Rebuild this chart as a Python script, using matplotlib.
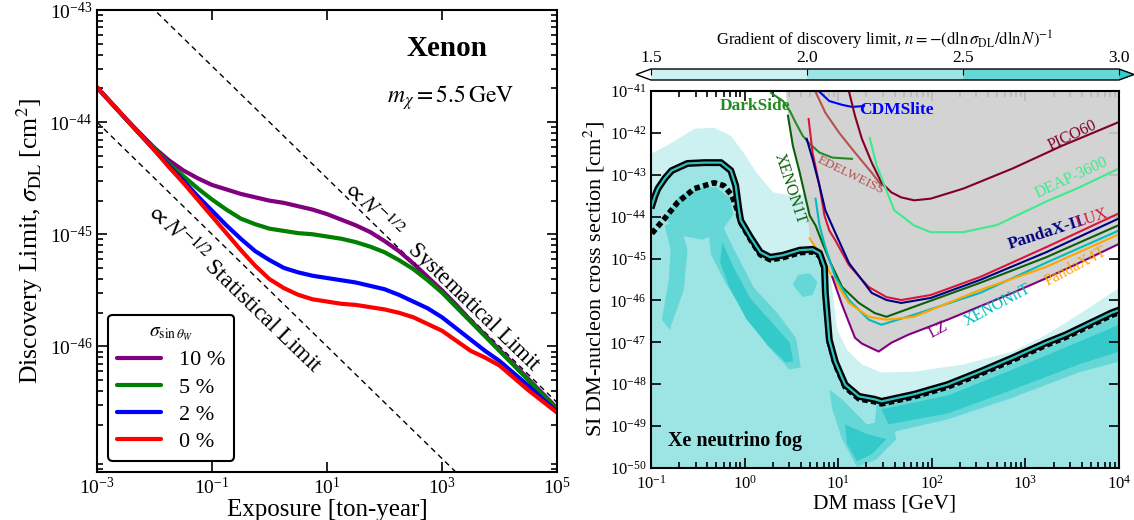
import numpy as np
import matplotlib
matplotlib.use("Agg")
import matplotlib.pyplot as plt
from matplotlib.colors import ListedColormap, BoundaryNorm
from matplotlib.ticker import NullLocator, LogLocator
import matplotlib.colorbar as mcb

plt.rcParams['font.family'] = ['Liberation Serif', 'DejaVu Serif']
plt.rcParams['mathtext.fontset'] = 'stix'

# ---------------- left panel data (log10 exposure, log10 discovery limit) ----------------
exposure_log = [-3.0, -2.75, -2.5, -2.25, -2.0, -1.75, -1.5, -1.25, -1.0, -0.75, -0.5, -0.25, 0.0, 0.25, 0.5, 0.75,
                1.0, 1.25, 1.5, 1.75, 2.0, 2.25, 2.5, 2.75, 3.0, 3.25, 3.5, 3.75, 4.0, 4.25, 4.5, 4.75, 5.0]
dl_10pc = [-43.69, -43.83, -43.97, -44.10, -44.23, -44.34, -44.43, -44.50, -44.56, -44.60, -44.64, -44.67, -44.70,
           -44.72, -44.75, -44.78, -44.82, -44.87, -44.92, -44.98, -45.06, -45.15, -45.26, -45.38, -45.50, -45.63,
           -45.77, -45.90, -46.03, -46.16, -46.29, -46.42, -46.55]
dl_5pc = [-43.69, -43.83, -43.97, -44.11, -44.24, -44.37, -44.48, -44.59, -44.69, -44.78, -44.86, -44.91, -44.95,
          -44.97, -44.99, -45.00, -45.02, -45.04, -45.07, -45.11, -45.16, -45.23, -45.31, -45.41, -45.52, -45.65,
          -45.78, -45.91, -46.04, -46.17, -46.30, -46.43, -46.56]
dl_2pc = [-43.69, -43.83, -43.97, -44.11, -44.25, -44.39, -44.52, -44.66, -44.79, -44.92, -45.04, -45.15, -45.23,
          -45.30, -45.34, -45.37, -45.39, -45.41, -45.43, -45.46, -45.49, -45.54, -45.60, -45.66, -45.74, -45.84,
          -45.94, -46.04, -46.13, -46.24, -46.35, -46.47, -46.58]
dl_0pc = [-43.69, -43.83, -43.97, -44.11, -44.25, -44.40, -44.54, -44.69, -44.84, -44.99, -45.14, -45.28, -45.40,
          -45.48, -45.54, -45.58, -45.60, -45.62, -45.63, -45.65, -45.67, -45.70, -45.74, -45.80, -45.86, -45.95,
          -46.04, -46.10, -46.17, -46.28, -46.39, -46.49, -46.59]
curve_labels = ['10 %', '5 %', '2 %', '0 %']
curve_colors = ['purple', 'green', 'blue', 'red']

sys_N = [-3.0, 5.0]
sys_sig = [-42.5, -46.5]
stat_N = [-3.0, 5.0]
stat_sig = [-44.0, -48.0]

# ---------------- right panel data (log10 mass, log10 cross section) ----------------
floor_m = [-1.0, -0.96, -0.926, -0.85, -0.779, -0.611, -0.432, -0.253, -0.147, -0.095, -0.063, -0.042, 0.063, 0.168,
           0.274, 0.411, 0.589, 0.726, 0.80, 0.853, 0.863, 0.905, 0.968, 1.074, 1.221, 1.389, 1.463, 1.811, 2.168,
           2.516, 2.863, 3.221, 3.432, 3.916, 4.0]
floor_s = [-43.80, -43.52, -43.33, -43.08, -42.90, -42.73, -42.71, -42.71, -42.90, -43.26, -43.80, -44.09, -44.49,
           -44.85, -44.97, -44.92, -44.80, -44.78, -44.87, -45.20, -45.82, -46.94, -47.46, -48.01, -48.29, -48.36,
           -48.41, -48.24, -48.01, -47.70, -47.37, -47.01, -46.82, -46.30, -46.23]

fog_dash_m = [-0.991, -0.853, -0.716, -0.537, -0.326, -0.221, -0.137, -0.084, -0.04, 0.063, 0.168, 0.274, 0.411,
              0.589, 0.726, 0.80, 0.853, 0.863, 0.905, 0.968, 1.074, 1.221, 1.389, 1.463, 1.811, 2.168, 2.516, 2.863,
              3.221, 3.432, 3.916, 4.0]
fog_dash_s = [-44.40, -44.04, -43.66, -43.33, -43.19, -43.26, -43.49, -43.80, -44.15, -44.55, -44.91, -45.03, -44.98,
              -44.86, -44.84, -44.93, -45.26, -45.88, -47.00, -47.52, -48.07, -48.35, -48.42, -48.47, -48.30, -48.07,
              -47.76, -47.43, -47.07, -46.88, -46.36, -46.29]

light_top_m = [-1.0, -0.779, -0.537, -0.326, -0.147, -0.011, 0.126, 0.305, 0.484, 0.653, 0.779, 0.884, 0.937, 0.989,
               1.095, 1.253, 1.463, 1.811, 2.337, 2.863, 3.221, 3.568, 4.0]
light_top_s = [-42.50, -42.24, -41.90, -41.88, -42.07, -42.47, -42.95, -43.42, -43.49, -43.45, -43.61, -44.56, -45.75,
               -46.70, -47.18, -47.53, -47.72, -47.70, -47.53, -47.22, -46.82, -46.34, -45.70]

# darker fog patches: outlines in (log m, log sigma)
loop_m = [-0.85, -0.70, -0.484, -0.30, -0.16, -0.12, -0.25, -0.45, -0.68]
loop_s = [-44.05, -43.50, -43.30, -43.30, -43.55, -43.95, -44.35, -44.55, -44.45]
streak_m = [-0.40, -0.27, -0.12, 0.10, 0.35, 0.55, 0.60, 0.48, 0.25, 0.0, -0.20, -0.36]
streak_s = [-44.10, -44.05, -44.75, -45.70, -46.30, -46.90, -47.60, -47.65, -47.10, -46.30, -45.60, -44.90]
streak_core_m = [-0.24, -0.12, 0.06, 0.30, 0.48, 0.52, 0.44, 0.24, 0.02, -0.16, -0.26]
streak_core_s = [-44.60, -45.20, -45.95, -46.55, -47.00, -47.45, -47.48, -47.05, -46.45, -45.70, -45.10]
side_m = [-0.853, -0.695, -0.610, -0.650, -0.800, -0.884, -0.810, -0.790]
side_s = [-44.21, -44.09, -44.80, -45.75, -46.70, -46.46, -45.51, -44.80]
blob_m = [0.516, 0.568, 0.695, 0.779, 0.726, 0.621]
blob_s = [-45.63, -45.39, -45.35, -45.56, -45.87, -45.92]
vee_m = [0.905, 1.042, 1.305, 1.568, 1.621, 1.411, 1.200, 1.042, 0.937]
vee_s = [-48.13, -48.36, -48.96, -48.84, -49.31, -49.79, -49.98, -49.31, -48.60]
vee_core_m = [1.074, 1.305, 1.516, 1.358, 1.200, 1.095]
vee_core_s = [-48.96, -49.19, -49.31, -49.67, -49.84, -49.43]
band_m = [1.411, 1.811, 2.168, 2.516, 2.863, 3.221, 3.568, 4.0, 4.0, 3.568, 2.863, 2.168, 1.621, 1.463, 1.389]
band_s = [-48.46, -48.32, -48.13, -47.84, -47.51, -47.15, -46.80, -46.32, -47.46, -47.72, -48.32, -48.84, -49.12,
          -49.36, -48.96]
band_core_m = [1.463, 2.168, 2.863, 3.568, 4.0, 4.0, 3.568, 2.863, 2.168, 1.537]
band_core_s = [-48.60, -48.27, -47.65, -46.99, -46.58, -47.22, -47.53, -48.13, -48.70, -48.96]

excl_m = [0.442, 0.463, 0.516, 0.589, 0.653, 0.68, 0.695, 0.80, 0.937, 1.042, 1.179, 1.253, 1.432, 1.568, 1.747,
          2.168, 2.863, 3.221, 3.568, 4.0, 4.0]
excl_s = [-41.0, -41.59, -42.31, -42.95, -43.57, -44.0, -44.52, -44.87, -45.44, -46.11, -46.89, -47.03, -47.22, -47.01,
          -46.82, -46.46, -45.82, -45.47, -45.11, -44.65, -41.0]

darkside_m = [0.284, 0.411, 0.484, 0.547, 0.621, 0.695, 0.80, 0.937, 1.147]
darkside_s = [-41.05, -41.24, -41.48, -41.76, -42.07, -42.26, -42.47, -42.59, -42.62]
xenon1t_m = [0.463, 0.516, 0.589, 0.653, 0.695, 0.758, 0.832, 0.916, 1.042, 1.221, 1.389, 1.516, 1.811, 2.516, 3.221, 4.0]
xenon1t_s = [-41.59, -42.31, -42.95, -43.57, -43.97, -44.21, -44.63, -45.09, -45.68, -46.06, -46.30, -46.39, -46.15,
             -45.58, -44.97, -44.20]
cdmslite_m = [0.80, 0.905, 1.042, 1.147, 1.274]
cdmslite_s = [-41.02, -41.24, -41.33, -41.38, -41.36]
edelweiss_m = [0.758, 0.863, 1.011, 1.179, 1.358, 1.463]
edelweiss_s = [-41.02, -41.52, -42.0, -42.47, -42.95, -43.26]
pico60_m = [1.116, 1.179, 1.253, 1.358, 1.463, 1.568, 1.674, 1.811, 1.989, 2.337, 2.863, 3.389, 4.0]
pico60_s = [-41.02, -41.59, -42.14, -42.71, -43.19, -43.42, -43.54, -43.61, -43.57, -43.33, -42.85, -42.31, -41.74]
deap_m = [1.337, 1.411, 1.516, 1.60, 1.811, 1.989, 2.337, 2.695, 3.042, 3.221, 3.568, 4.0]
deap_s = [-42.12, -42.78, -43.38, -43.85, -44.21, -44.37, -44.37, -44.20, -43.83, -43.64, -43.31, -42.85]
lux_m = [0.684, 0.726, 0.80, 0.853, 0.905, 0.968, 1.116, 1.326, 1.516, 1.674, 1.989, 2.516, 3.221, 4.0]
lux_s = [-41.67, -42.47, -43.26, -43.97, -44.33, -44.56, -45.16, -45.68, -45.92, -45.99, -45.87, -45.44, -44.73, -43.92]
pandax2_m = [0.663, 0.726, 0.80, 0.863, 0.958, 1.116, 1.358, 1.516, 1.674, 1.989, 2.516, 3.221, 4.0]
pandax2_s = [-42.14, -42.62, -43.26, -43.85, -44.33, -45.11, -45.82, -45.99, -46.06, -45.94, -45.51, -44.85, -44.04]
xenonnt_m = [0.758, 0.80, 0.863, 0.968, 1.116, 1.326, 1.463, 1.811, 2.516, 3.221, 4.0]
xenonnt_s = [-43.57, -44.21, -44.73, -45.44, -45.99, -46.46, -46.58, -46.34, -45.82, -45.10, -44.33]
pandax4t_m = [0.695, 0.80, 0.937, 1.116, 1.326, 1.516, 1.811, 2.516, 3.221, 4.0]
pandax4t_s = [-44.52, -44.87, -45.44, -46.06, -46.39, -46.46, -46.39, -45.75, -45.20, -44.42]
lz_m = [0.937, 1.042, 1.179, 1.253, 1.432, 1.568, 1.747, 2.168, 2.863, 3.221, 3.568, 4.0]
lz_s = [-45.44, -46.11, -46.89, -47.03, -47.22, -47.01, -46.82, -46.46, -45.82, -45.47, -45.11, -44.65]

FOG_LIGHT = '#cdf1f1'
FOG_MID = '#9de4e5'
FOG_DARK = '#66d7d7'
FOG_DARKEST = '#34caca'


def P(a):
    return 10 ** np.asarray(a, dtype=float)


fig = plt.figure(figsize=(11.34, 5.2), dpi=100)

# ======================= left panel =======================
ax1 = fig.add_axes([97 / 1134, 1 - 472 / 520, 460 / 1134, 462 / 520])
ax1.set_xscale('log')
ax1.set_yscale('log')
ax1.plot(P(sys_N), P(sys_sig), color='k', lw=1, ls=(0, (4, 3)))
ax1.plot(P(stat_N), P(stat_sig), color='k', lw=1, ls=(0, (4, 3)))
for ys, c, lab in zip([dl_10pc, dl_5pc, dl_2pc, dl_0pc], curve_colors, curve_labels):
    ax1.plot(P(exposure_log), P(ys), color=c, lw=3, label=lab, solid_capstyle='round', solid_joinstyle='round')
ax1.set_xlim(1e-3, 1e5)
ax1.set_ylim(10 ** -47.12, 1e-43)
ax1.set_xticks([1e-3, 1e-1, 1e1, 1e3, 1e5])
ax1.xaxis.set_minor_locator(NullLocator())
ax1.set_yticks([1e-46, 1e-45, 1e-44, 1e-43])
ax1.yaxis.set_minor_locator(LogLocator(subs=np.arange(2, 10)))
ax1.tick_params(which='both', direction='in', top=True, right=True, labelsize=14, width=1.2)
ax1.tick_params(which='major', length=7)
ax1.tick_params(which='minor', length=4)
for s in ax1.spines.values():
    s.set_linewidth(1.5)
ax1.set_xlabel('Exposure [ton-year]', fontsize=18, labelpad=1)
ax1.set_ylabel(r'Discovery Limit, $\sigma_{\rm DL}$ [cm$^2$]', fontsize=18.5, labelpad=3)
ax1.text(10 ** 3.09, 10 ** -43.34, 'Xenon', fontsize=21, fontweight='bold', ha='center', va='center')
ax1.text(10 ** 3.14, 10 ** -43.78, r'$m_\chi = 5.5\,\mathrm{GeV}$', fontsize=17, ha='center', va='center')
ax1.text(10 ** 3.0, 10 ** -45.37, r'$\propto N^{-1/2}$   Systematical Limit', fontsize=16.5,
         rotation=-44, ha='center', va='center', rotation_mode='anchor')
ax1.text(10 ** -0.6, 10 ** -45.48, r'$\propto N^{-1/2}$ Statistical Limit', fontsize=17,
         rotation=-44, ha='center', va='center', rotation_mode='anchor')
leg = ax1.legend(loc='lower left', fontsize=16, title=r'$\sigma_{\sin\theta_W}$', title_fontsize=14,
                 frameon=True, fancybox=True, edgecolor='k', framealpha=1, handlelength=2.0,
                 borderaxespad=0.5, labelspacing=0.3)
leg.get_frame().set_linewidth(1.5)

# ======================= right panel =======================
ax2 = fig.add_axes([651 / 1134, 1 - 468 / 520, 468 / 1134, 377 / 520])
ax2.set_xscale('log')
ax2.set_yscale('log')

light_x = np.concatenate([light_top_m, floor_m[::-1]])
light_y = np.concatenate([light_top_s, floor_s[::-1]])
ax2.fill(P(light_x), P(light_y), color=FOG_LIGHT, lw=0, zorder=1)
ax2.fill(P(floor_m + [4.0, -1.0]), P(floor_s + [-50.0, -50.0]), color=FOG_MID, lw=0, zorder=1.1)
for xm, ys, c in [(loop_m, loop_s, FOG_DARK), (streak_m, streak_s, FOG_DARK),
                  (side_m, side_s, FOG_DARK), (blob_m, blob_s, FOG_DARK),
                  (vee_m, vee_s, FOG_DARK), (band_m, band_s, FOG_DARK),
                  (streak_core_m, streak_core_s, FOG_DARKEST), (vee_core_m, vee_core_s, FOG_DARKEST),
                  (band_core_m, band_core_s, FOG_DARKEST)]:
    ax2.fill(P(xm), P(ys), color=c, lw=0, zorder=1.2)

ax2.fill(P(excl_m), P(excl_s), color='#cfcfcf', alpha=0.9, lw=0, zorder=2)

experiments = [
    (darkside_m, darkside_s, '#228b22'),
    (xenon1t_m, xenon1t_s, '#0b600b'),
    (cdmslite_m, cdmslite_s, 'blue'),
    (edelweiss_m, edelweiss_s, '#b5524c'),
    (pico60_m, pico60_s, '#800026'),
    (deap_m, deap_s, '#3deb8c'),
    (lux_m, lux_s, 'crimson'),
    (pandax2_m, pandax2_s, 'navy'),
    (xenonnt_m, xenonnt_s, '#00bcbc'),
    (pandax4t_m, pandax4t_s, 'orange'),
    (lz_m, lz_s, 'purple'),
]
for xm, ys, c in experiments:
    ax2.plot(P(xm), P(ys), color=c, lw=1.5, zorder=3)

ax2.plot(P(fog_dash_m), P(fog_dash_s), color='k', lw=4, ls=(0, (1.0, 0.6)), zorder=3.5)
ax2.plot(P(floor_m), P(floor_s), color='k', lw=5, zorder=4, solid_capstyle='butt')
ax2.plot(P(floor_m), P(floor_s), color='#2ec3c3', lw=1.6, zorder=4.1, solid_capstyle='butt')

lab_kw = dict(fontsize=11.5, ha='center', va='center', zorder=5)
bold_kw = dict(fontsize=12.5, ha='center', va='center', zorder=5, fontweight='bold')
ax2.text(10 ** 0.116, 10 ** -41.36, 'DarkSide', color='#228b22', **bold_kw)
ax2.text(10 ** 1.62, 10 ** -41.45, 'CDMSlite', color='blue', **bold_kw)
ax2.text(10 ** 3.505, 10 ** -42.05, 'PICO60', color='#800026', rotation=25, **lab_kw)
ax2.text(10 ** 1.137, 10 ** -43.0, 'EDELWEISS', color='#b5524c', rotation=-26, fontsize=9.5,
         ha='center', va='center', zorder=5)
ax2.text(10 ** 3.495, 10 ** -43.07, 'DEAP-3600', color='#3deb8c', rotation=25, **lab_kw)
ax2.text(10 ** 3.22, 10 ** -44.40, 'PandaX-II', color='navy', rotation=18, **bold_kw)
ax2.text(10 ** 3.716, 10 ** -44.04, 'LUX', color='crimson', rotation=18, **lab_kw)
ax2.text(10 ** 3.537, 10 ** -45.18, 'PandaX4T', color='orange', rotation=28, **lab_kw)
ax2.text(10 ** 2.705, 10 ** -46.11, 'XENONnT', color='#00bcbc', rotation=28, **lab_kw)
ax2.text(10 ** 2.07, 10 ** -46.70, 'LZ', color='purple', rotation=28, **lab_kw)
ax2.text(10 ** 0.484, 10 ** -43.33, 'XENON1T', color='#0b600b', rotation=-72, **lab_kw)
ax2.text(10 ** -0.821, 10 ** -49.36, 'Xe neutrino fog', fontsize=14.5, fontweight='bold',
         ha='left', va='center', zorder=5)

ax2.set_xlim(0.1, 1e4)
ax2.set_ylim(1e-50, 1e-41)
ax2.set_xticks([10.0 ** k for k in range(-1, 5)])
ax2.xaxis.set_minor_locator(LogLocator(subs=np.arange(2, 10), numticks=20))
ax2.set_yticks([10.0 ** k for k in range(-50, -40)])
ax2.yaxis.set_minor_locator(NullLocator())
ax2.tick_params(which='both', direction='in', top=True, right=True, labelsize=12, width=1.2)
ax2.tick_params(which='major', length=7)
ax2.tick_params(which='minor', length=4)
ax2.tick_params(axis='x', pad=5)
for s in ax2.spines.values():
    s.set_linewidth(1.5)
    s.set_zorder(6)
ax2.set_xlabel('DM mass [GeV]', fontsize=15.5, labelpad=1)
ax2.set_ylabel(r'SI DM-nucleon cross section [cm$^2$]', fontsize=16, labelpad=2)

# ---------------- colorbar ----------------
cb_bounds = [1.5, 2.0, 2.5, 3.0]
cmap = ListedColormap([FOG_LIGHT, FOG_MID, FOG_DARK])
cmap.set_under('white')
cmap.set_over(FOG_DARKEST)
norm = BoundaryNorm(cb_bounds, cmap.N)
cax = fig.add_axes([636 / 1134, 1 - 80 / 520, 498 / 1134, 11 / 520])
cb = mcb.ColorbarBase(cax, cmap=cmap, norm=norm, orientation='horizontal', extend='both',
                      extendfrac=0.032, ticks=cb_bounds, spacing='proportional')
cb.outline.set_linewidth(1.0)
cax.xaxis.set_ticks_position('top')
cax.xaxis.set_label_position('top')
cax.tick_params(direction='in', length=4, labelsize=12.5, pad=2)
cb.set_ticklabels(['1.5', '2.0', '2.5', '3.0'])
cb.set_label(r'Gradient of discovery limit, $n = -(\mathrm{d}\ln\sigma_{\rm DL}/\mathrm{d}\ln N)^{-1}$',
             fontsize=12, labelpad=3)

fig.savefig('out.png', dpi=100)
